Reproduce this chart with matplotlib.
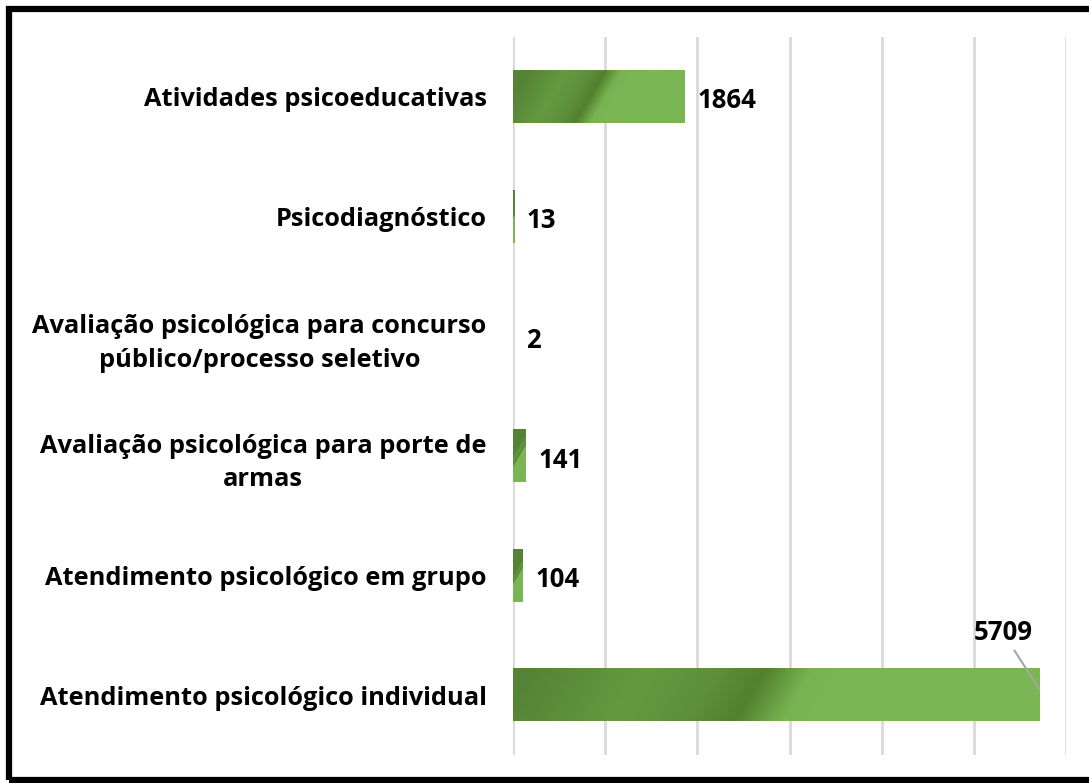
import numpy as np
import matplotlib
matplotlib.use("Agg")
import matplotlib.pyplot as plt
from matplotlib.patches import Rectangle
from matplotlib.colors import LinearSegmentedColormap

categories = [
    "Atendimento psicológico individual",
    "Atendimento psicológico em grupo",
    "Avaliação psicológica para porte de\narmas",
    "Avaliação psicológica para concurso\npúblico/processo seletivo",
    "Psicodiagnóstico",
    "Atividades psicoeducativas",
]
values = [5709, 104, 141, 2, 13, 1864]

plt.rcParams['font.family'] = ['Open Sans', 'DejaVu Sans']

fig = plt.figure(figsize=(10.89, 7.83), dpi=100)
ax = fig.add_axes([513/1089, 1 - 755/783, (1066 - 513)/1089, (755 - 37)/783])

y = np.arange(len(categories))
bar_h = 0.44
ax.set_xlim(0, 6000)
ax.set_ylim(-0.5, len(categories) - 0.5)
ax.set_xticks(np.arange(0, 6001, 1000))
ax.grid(axis='x', color='#d9d9d9', linewidth=2)
ax.set_axisbelow(True)
for s in ax.spines.values():
    s.set_visible(False)
ax.tick_params(axis='both', length=0)
ax.set_xticklabels([])
ax.set_yticks(y)
ax.set_yticklabels(categories, fontsize=18.3, fontweight='bold', ha='right',
                   multialignment='center', linespacing=1.45)
ax.tick_params(axis='y', pad=19)

cmap = LinearSegmentedColormap.from_list('g', [
    (0.0, '#558336'), (0.22, '#649a40'), (0.36, '#5e8f3c'), (0.45, '#52802f'),
    (0.54, '#77b350'), (0.60, '#7ab653'), (1.0, '#7ab653')])

fig.canvas.draw()
bars = ax.barh(y, values, height=bar_h, color='none', edgecolor='none')
px_per_x = ax.transData.transform((1, 0))[0] - ax.transData.transform((0, 0))[0]
px_per_y = ax.transData.transform((0, 1))[1] - ax.transData.transform((0, 0))[1]
for b, v in zip(bars, values):
    w_px = v * px_per_x
    h_px = bar_h * px_per_y
    if w_px < 1:
        continue
    nx, ny = 300, 40
    u = np.linspace(0, 1, nx)[None, :]
    vv = np.linspace(0, 1, ny)[:, None]
    t = u - (vv - 0.5) * 0.58 * h_px / max(w_px, 1)
    t = np.clip(t, 0, 1)
    ax.imshow(t, cmap=cmap, vmin=0, vmax=1, aspect='auto', origin='lower',
              extent=(0, v, b.get_y(), b.get_y() + bar_h), zorder=2,
              interpolation='bilinear')
ax.set_xlim(0, 6000)
ax.set_ylim(-0.5, len(categories) - 0.5)

for yi, v in zip(y, values):
    if v == max(values):
        ax.annotate(str(v), xy=(v, yi + 0.05), xytext=(v - 390, yi + 0.52),
                    fontsize=18.5, fontweight='bold', ha='center', va='center',
                    arrowprops=dict(arrowstyle='-', color='#a6a6a6', lw=1.5,
                                    shrinkA=1, shrinkB=0))
    else:
        ax.annotate(str(v), xy=(v, yi), xytext=(9, -3), textcoords='offset points',
                    fontsize=18.5, fontweight='bold', ha='left', va='center')

fig.patches.append(Rectangle((9/1089, 3/783), 1.05, 1 - 12/783, transform=fig.transFigure,
                             fill=False, edgecolor='black', linewidth=4.5, zorder=10))

fig.savefig('out.png', dpi=100)
